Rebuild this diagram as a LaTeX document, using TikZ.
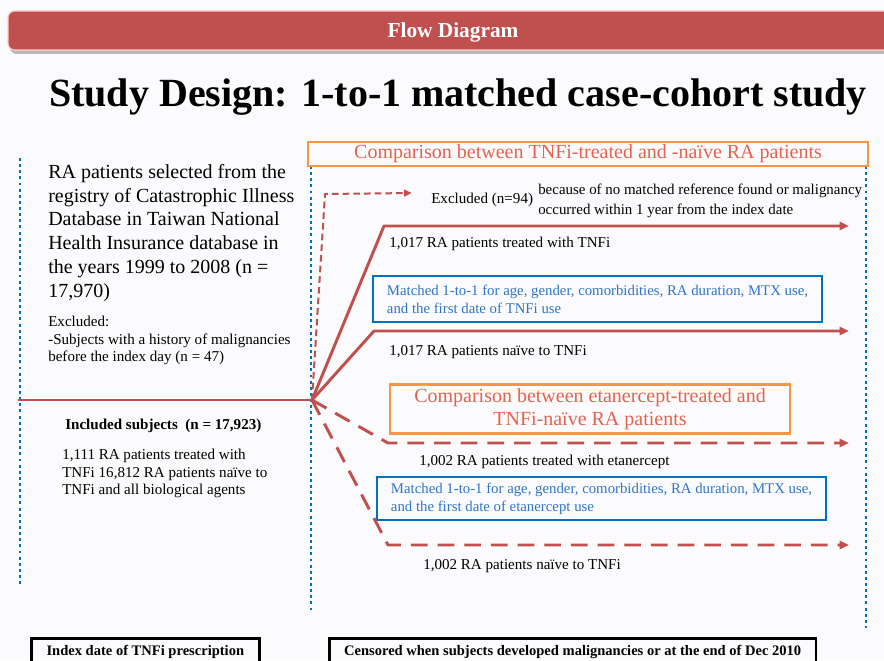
\documentclass[tikz,border=0pt]{standalone}
\usepackage{fontspec}
\setmainfont{Liberation Serif}
\usetikzlibrary{arrows.meta, positioning, calc}
\definecolor{flowRed}{RGB}{192, 80, 77}
\definecolor{flowBlue}{RGB}{0, 112, 192}
\definecolor{flowOrange}{RGB}{247, 150, 70}
\definecolor{flowSalmon}{RGB}{228, 98, 78}
\definecolor{flowText}{RGB}{46, 117, 200}
\definecolor{flowBack}{RGB}{251, 251, 253}

\begin{document}
\begin{tikzpicture}[
    x=0.75pt, y=-0.75pt,
    % --- text styles ---
    bigtext/.style={font=\fontsize{15}{17.8}\selectfont, align=left, inner sep=0pt},
    smalltext/.style={font=\fontsize{11.3}{13.1}\selectfont, align=left, inner sep=0pt},
    boldtext/.style={font=\bfseries\fontsize{11.3}{13.1}\selectfont, inner sep=0pt},
    % --- boxes ---
    orangebox/.style={draw=flowOrange, line width=1.6pt, text=flowSalmon, align=center,
        font=\fontsize{15}{17.3}\selectfont},
    bluebox/.style={draw=flowBlue, line width=1.6pt, text=flowText, align=left,
        font=\fontsize{11.1}{13.5}\selectfont, minimum width=336.75pt},
    blackbox/.style={draw=black, line width=2pt, inner ysep=0pt, font=\bfseries\fontsize{10.9}{13}\selectfont},
    % --- lines ---
    bluedots/.style={flowBlue, line width=2.2pt, dash pattern=on 2.2pt off 2.4pt},
    solidarrow/.style={flowRed, line width=2.2pt, line join=round,
        -{Triangle[length=7pt, width=6pt]}},
    dasharrow/.style={solidarrow, dash pattern=on 12.5pt off 7.5pt},
    thindash/.style={flowRed, line width=1.5pt, line join=round, dash pattern=on 5pt off 3pt,
        -{Triangle[length=6pt, width=5pt]}}
]

% === background and frame ===
\path[use as bounding box, fill=flowBack] (0,0) rectangle (884,660);
\clip (0,0) rectangle (884,660);

% === header ===
\fill[gray!55, rounded corners=5pt] (10,15) rectangle (910,54);
\fill[flowRed, draw=red!20, line width=0.8pt, rounded corners=5pt] (8,11) rectangle (910,50);
\node[text=white, font=\bfseries\fontsize{16}{18}\selectfont] (banner) at (453,32) {Flow Diagram};
\node[font=\bfseries\fontsize{30}{36}\selectfont] (title) at (458,97)
    {Study Design: 1-to-1 matched case-cohort study};

% === dotted frame lines ===
\coordinate (leftTop) at (20,158);   \coordinate (leftBot) at (20,585);
\coordinate (midTop) at (311,166);   \coordinate (midBot) at (311,610);
\coordinate (rightTop) at (866,166); \coordinate (rightBot) at (866,628);
\draw[bluedots] (leftTop) -- (leftBot);
\draw[bluedots] (midTop) -- (midBot);
\draw[bluedots] (rightTop) -- (rightBot);

% === left column ===
\node[bigtext, anchor=north west] (source) at (48,164)
    {RA patients selected from the\\registry of Catastrophic Illness\\Database in Taiwan National\\Health Insurance database in\\the years 1999 to 2008 (n =\\17,970)};
\node[smalltext, anchor=north west] (exclBase) at (48,316)
    {Excluded:\\-Subjects with a history of malignancies\\before the index day (n = 47)};

\coordinate (start) at (18,400);
\coordinate (hub) at (312,400);
\draw[flowRed, line width=2.2pt] (start) -- (hub);

\node[boldtext, anchor=west] (included) at (65,426) {Included subjects\ \ (n = 17,923)};
\node[smalltext, anchor=north west] (inclList) at (62,449)
    {1,111 RA patients treated with\\TNFi 16,812 RA patients naïve to\\TNFi and all biological agents};

% === first comparison ===
\node[orangebox, minimum width=420pt, minimum height=18pt, inner sep=0pt] (cmpA) at (588,154)
    {Comparison between TNFi-treated and -naïve RA patients};

\coordinate (exclBend) at (325,194);
\coordinate (exclEnd) at (412,193);
\draw[thindash] (hub) -- (exclBend) -- (exclEnd);
\node[smalltext, anchor=west] (exclA) at (431,200) {Excluded (n=94)};
\node[font=\fontsize{11.2}{15}\selectfont, align=left, inner sep=0pt, anchor=west] (exclWhy) at (538,201)
    {because of no matched reference found or malignancy\\occurred within 1 year from the index date};

\coordinate (tnfBend) at (384,226);
\coordinate (tnfEnd) at (849,226);
\draw[solidarrow] (hub) -- (tnfBend) -- (tnfEnd);
\node[smalltext, anchor=west] (tnfLabel) at (389,244) {1,017 RA patients treated with TNFi};

\node[bluebox, minimum height=34.5pt] (matchA) at (597.5,299)
    {Matched 1-to-1 for age, gender, comorbidities, RA duration, MTX use,\\and the first date of TNFi use};

\coordinate (naiveBend) at (374,331);
\coordinate (naiveEnd) at (849,331);
\draw[solidarrow] (hub) -- (naiveBend) -- (naiveEnd);
\node[smalltext, anchor=west] (naiveLabel) at (389,352) {1,017 RA patients naïve to TNFi};

% === second comparison ===
\node[orangebox, minimum width=300pt, minimum height=36.75pt, inner sep=0pt] (cmpB) at (590,409)
    {Comparison between etanercept-treated and\\TNFi-naïve RA patients};

\coordinate (etaBend) at (388,443);
\coordinate (etaEnd) at (849,443);
\draw[dasharrow] (hub) -- (etaBend) -- (etaEnd);
\node[smalltext, anchor=west] (etaLabel) at (419,462) {1,002 RA patients treated with etanercept};

\node[bluebox, minimum height=32.25pt] (matchB) at (601.5,498.5)
    {Matched 1-to-1 for age, gender, comorbidities, RA duration, MTX use,\\and the first date of etanercept use};

\coordinate (ctrlBend) at (388,545);
\coordinate (ctrlEnd) at (849,545);
\draw[dasharrow] (hub) -- (ctrlBend) -- (ctrlEnd);
\node[smalltext, anchor=west] (ctrlLabel) at (423,566) {1,002 RA patients naïve to TNFi};

% === bottom boxes ===
\node[blackbox, minimum width=171pt, minimum height=21pt, anchor=north west] (indexDate) at (30,637)
    {Index date of TNFi prescription};
\node[blackbox, minimum width=365pt, minimum height=21pt, anchor=north west] (censored) at (328,637)
    {Censored when subjects developed malignancies or at the end of Dec 2010};

\end{tikzpicture}
\end{document}
